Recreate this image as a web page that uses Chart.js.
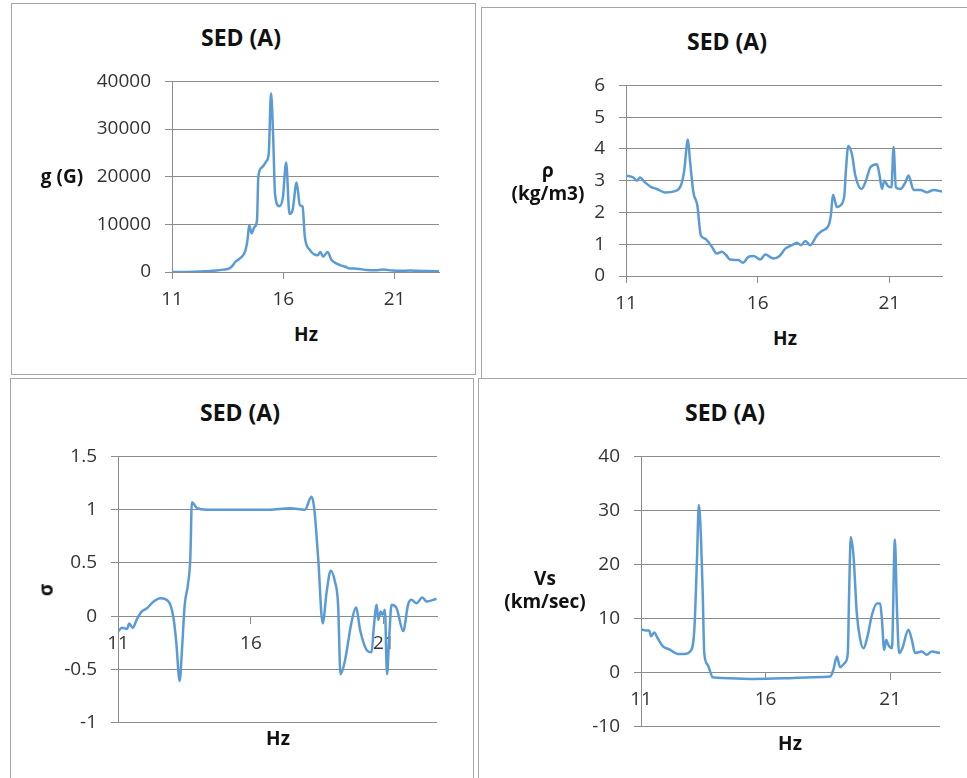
<!DOCTYPE html>
<html>
<head>
<meta charset="utf-8">
<script src="https://cdn.jsdelivr.net/npm/chart.js@4/dist/chart.umd.min.js"></script>
<style>
  body { margin: 0; background: #fff; width: 967px; height: 778px; overflow: hidden; position: relative; font-family: 'Open Sans', sans-serif; }
  .box { position: absolute; border: 1px solid #a6a6a6; }
  canvas { position: absolute; }
  .t { position: absolute; transform: translate(-50%, -50%); white-space: nowrap; line-height: 1.2; font-weight: bold; color: #111; text-align: center; }
  .title { font-size: 23px; }
  .lab { font-size: 19px; }
</style>
</head>
<body>
<div class="box" style="left:11px;top:3px;width:463px;height:370px"></div>
<div class="box" style="left:481px;top:7px;width:500px;height:370px"></div>
<div class="box" style="left:10px;top:378px;width:462px;height:420px"></div>
<div class="box" style="left:478px;top:378px;width:500px;height:420px"></div>

<canvas id="c1"></canvas>
<canvas id="c2"></canvas>
<canvas id="c3"></canvas>
<canvas id="c4"></canvas>

<div class="t title" style="left:241px;top:38px">SED (A)</div>
<div class="t title" style="left:727px;top:42px">SED (A)</div>
<div class="t title" style="left:240px;top:413px">SED (A)</div>
<div class="t title" style="left:725px;top:413px">SED (A)</div>

<div class="t lab" style="left:62px;top:176px">g (G)</div>
<div class="t lab" style="left:548px;top:182px">ρ<br>(kg/m3)</div>
<div class="t lab" style="left:46px;top:590px;transform:translate(-50%,-50%) rotate(-90deg)">σ</div>
<div class="t lab" style="left:545px;top:590px">Vs<br>(km/sec)</div>

<div class="t lab" style="left:306px;top:334px">Hz</div>
<div class="t lab" style="left:785px;top:338px">Hz</div>
<div class="t lab" style="left:278px;top:738px">Hz</div>
<div class="t lab" style="left:790px;top:743px">Hz</div>

<script>
// g (G) vs Hz
const hz1 = [11,11.5,12,12.5,13,13.3,13.6,13.75,13.85,14.05,14.3,14.4,14.47,14.58,14.7,14.82,14.88,15.05,15.25,15.35,15.45,15.55,15.63,15.82,15.98,16.13,16.28,16.42,16.6,16.75,16.87,16.97,17.2,17.55,17.67,17.79,17.99,18.17,18.55,18.8,18.95,19.3,19.75,20.1,20.5,20.9,21.3,21.7,22,22.5,23];
const gVals = [0,20,50,150,300,500,800,1500,2150,2850,4500,7000,9800,8100,9400,10800,20000,22000,23300,25000,37500,28000,16400,13800,15500,23000,12200,13000,18800,14000,13700,7400,4600,3500,4200,3200,4200,2500,1460,1100,760,700,420,350,500,300,250,300,250,200,150];

// rho (kg/m3) vs Hz
const hz2 = [11,11.28,11.41,11.53,11.72,11.98,12.17,12.48,12.86,13.08,13.21,13.35,13.43,13.56,13.71,13.84,14,14.26,14.45,14.64,14.8,14.95,15.27,15.44,15.65,15.84,16.1,16.29,16.6,16.83,17.05,17.3,17.49,17.64,17.81,18,18.25,18.44,18.69,18.78,18.86,19.01,19.14,19.29,19.35,19.44,19.58,19.71,19.94,20.09,20.28,20.53,20.63,20.72,20.81,20.94,21.08,21.16,21.25,21.42,21.61,21.73,21.92,22.18,22.43,22.68,23];
const rhoVals = [3.16,3.1,3.0,3.1,2.95,2.79,2.74,2.63,2.67,2.84,3.31,4.3,3.63,2.63,2.22,1.28,1.18,0.92,0.71,0.76,0.66,0.52,0.5,0.42,0.6,0.63,0.52,0.68,0.55,0.63,0.86,0.97,1.05,0.97,1.1,0.97,1.28,1.42,1.59,1.91,2.56,2.17,2.22,2.53,3.31,4.09,3.83,3.16,2.74,2.95,3.42,3.52,3.16,2.74,3.0,2.84,2.79,4.06,2.79,2.74,2.95,3.16,2.71,2.71,2.63,2.71,2.66];

// sigma vs Hz
const hz3 = [11,11.15,11.34,11.42,11.55,11.71,11.88,12.09,12.34,12.59,12.78,12.97,13.09,13.19,13.32,13.41,13.51,13.63,13.72,13.78,13.97,14.35,15.5,16.71,17.47,18.03,18.28,18.38,18.53,18.7,18.85,19,19.16,19.28,19.37,19.53,19.79,19.95,20.12,20.35,20.54,20.62,20.73,20.79,20.88,20.95,21.04,21.12,21.2,21.29,21.48,21.73,21.91,22.04,22.23,22.45,22.61,22.98];
const sigmaVals = [-0.145,-0.11,-0.12,-0.07,-0.11,-0.03,0.04,0.074,0.137,0.168,0.16,0.106,-0.02,-0.24,-0.61,-0.3,0.106,0.294,0.544,1.07,1.014,1.0,1.0,1.0,1.014,1.0,1.12,1.014,0.544,-0.067,0.23,0.426,0.325,0.106,-0.546,-0.427,-0.05,0.081,-0.145,-0.317,-0.34,-0.11,0.106,-0.035,0.043,0.012,0.06,-0.546,-0.21,0.106,0.074,-0.14,0.106,0.153,0.12,0.175,0.137,0.163];

// Vs (km/sec) vs Hz
const hz4 = [11,11.2,11.33,11.4,11.53,11.67,11.87,12.14,12.47,12.74,12.97,13.14,13.25,13.32,13.41,13.48,13.54,13.68,13.88,14.28,15.49,16.82,17.92,18.59,18.72,18.86,18.99,19.19,19.3,19.35,19.42,19.53,19.66,19.8,19.93,20.09,20.27,20.47,20.6,20.67,20.76,20.84,20.93,21.07,21.19,21.27,21.36,21.49,21.73,21.87,22,22.27,22.47,22.67,23];
const vsVals = [8,7.8,7.8,6.7,7.4,6.35,4.9,4.3,3.45,3.45,3.9,7.9,21.5,31,24.6,14.1,3.6,1.4,-0.86,-0.99,-1.17,-1.05,-0.86,-0.74,0.5,2.96,1.0,1.85,3.6,14.1,25.1,21.5,11,6.05,4.5,6.7,10.7,12.8,12.8,9.75,4.2,6.05,5.1,4.5,24.6,12.2,3.6,4.5,7.9,6.05,3.6,3.9,3.3,3.9,3.6];

const xTicks = [11, 16, 21];
const GRID = '#8c8c8c';
const TICK_FONT = { family: "'Open Sans', sans-serif", size: 19 };

// plot area in page pixels: L, T, R, B
function makeChart(id, area, xs, ys, yMin, yMax, yStep, xAtZero) {
  const padL = 90, padT = 15, padR = 10, padB = 45;
  // where chart.js ends up putting the plot area inside the canvas
  const gapTop = 24;
  const gapBot = xAtZero ? 27 : 45;
  const cv = document.getElementById(id);
  cv.style.left = (area.L - padL) + 'px';
  cv.style.top = (area.T - gapTop) + 'px';
  cv.width = area.R - area.L + padL + padR;
  cv.height = area.B - area.T + gapTop + gapBot;

  new Chart(cv, {
    type: 'line',
    data: {
      datasets: [{
        data: xs.map((x, i) => ({ x, y: ys[i] })),
        borderColor: '#5b9bd5',
        borderWidth: 2.5,
        pointRadius: 0,
        cubicInterpolationMode: 'monotone',
      }],
    },
    options: {
      responsive: false,
      animation: false,
      devicePixelRatio: 1,
      layout: { padding: { left: 0, top: padT, right: padR, bottom: 0 } },
      plugins: { legend: { display: false }, tooltip: { enabled: false } },
      scales: {
        x: {
          type: 'linear',
          min: 11, max: 23,
          z: 1,
          position: xAtZero ? { y: 0 } : 'bottom',
          afterBuildTicks: s => { s.ticks = xTicks.map(v => ({ value: v })); },
          afterFit: s => { s.height = padB; },
          grid: { drawOnChartArea: false, color: GRID, tickLength: 7 },
          border: { color: GRID, width: 1 },
          ticks: { font: TICK_FONT, color: '#333', padding: 9, maxRotation: 0, callback: v => String(v) },
        },
        y: {
          min: yMin, max: yMax,
          afterFit: s => { s.width = padL; },
          grid: { color: GRID, tickLength: 7 },
          border: { color: GRID, width: 1 },
          ticks: { stepSize: yStep, font: TICK_FONT, color: '#333', padding: 14, callback: v => String(v) },
        },
      },
    },
  });
}

makeChart('c1', { L: 172, T: 80, R: 439, B: 272 }, hz1, gVals, 0, 40000, 10000, false);
makeChart('c2', { L: 626, T: 84, R: 942, B: 276 }, hz2, rhoVals, 0, 6, 1, false);
makeChart('c3', { L: 118, T: 455, R: 437, B: 721 }, hz3, sigmaVals, -1, 1.5, 0.5, true);
makeChart('c4', { L: 641, T: 455, R: 940, B: 725 }, hz4, vsVals, -10, 40, 10, true);
</script>
</body>
</html>
